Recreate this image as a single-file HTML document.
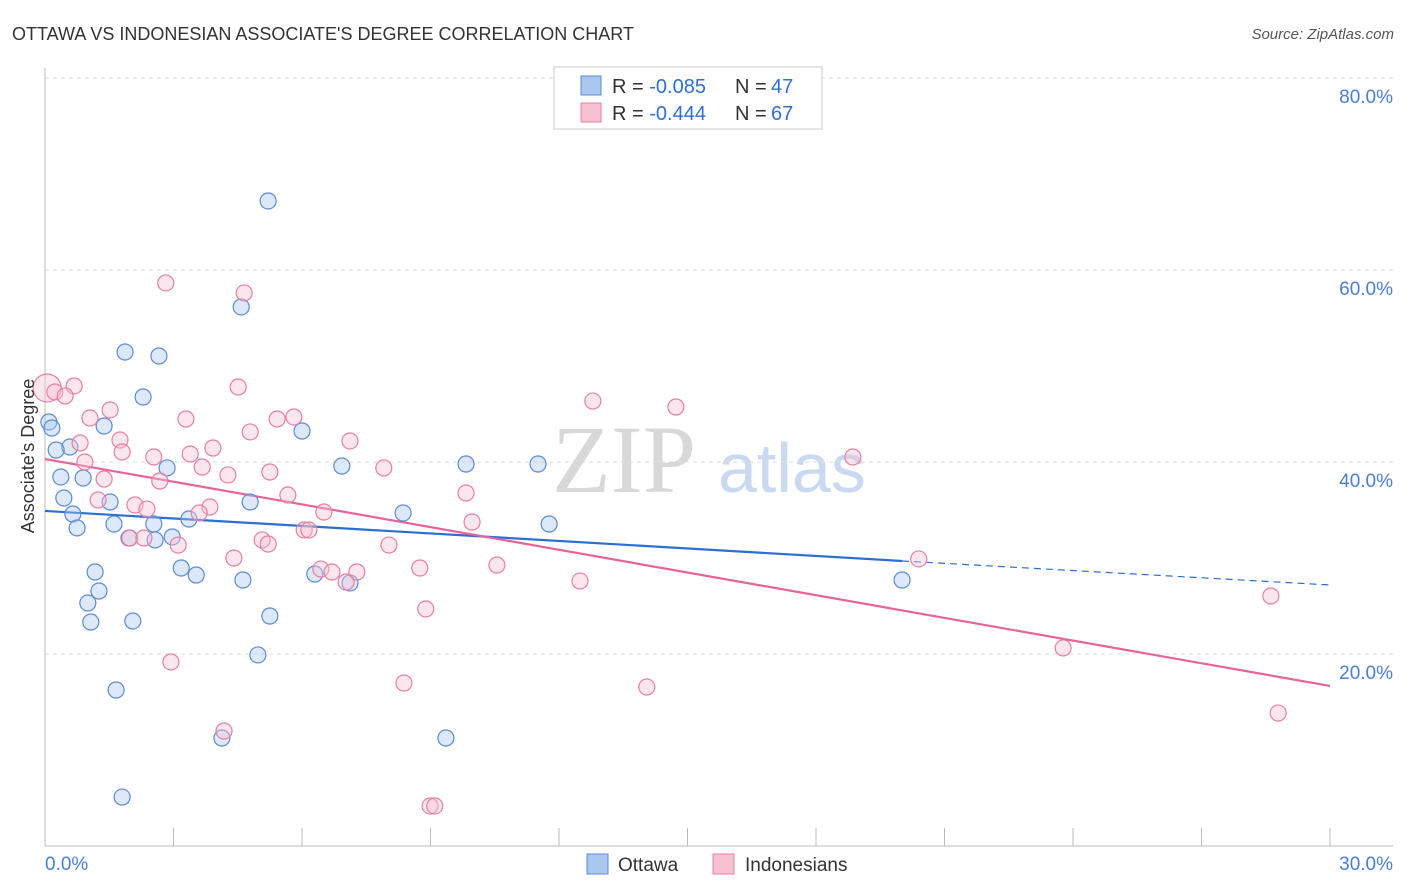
<!DOCTYPE html>
<html><head><meta charset="utf-8"><style>
body{margin:0;background:#fff;font-family:"Liberation Sans",sans-serif}
svg{display:block}
</style></head><body>
<svg id="c" width="1406" height="892">
<text x="12" y="40" font-size="18" fill="#333">OTTAWA VS INDONESIAN ASSOCIATE'S DEGREE CORRELATION CHART</text>
<text x="1394" y="39" font-size="15" fill="#555" font-style="italic" text-anchor="end">Source: ZipAtlas.com</text>
<g><text x="552" y="492" font-family="Liberation Serif" font-size="96" fill="#d8d8d8">ZIP</text><text x="718" y="492" font-size="70" fill="#c9d9f0">atlas</text></g>
<g id="grid"></g><g id="axes"></g><g id="lines"></g><g id="pts"></g>
<g>
<rect x="554" y="67" width="268" height="62" fill="#fff" stroke="#ccc"/>
<rect x="581" y="76" width="20" height="19" fill="#a9c7ef" stroke="#5b8ad8"/>
<text x="612" y="93" font-size="20" fill="#333">R = <tspan fill="#2f6fd8">-0.085</tspan></text>
<text x="735" y="93" font-size="20" fill="#333">N = </text><text x="771" y="93" font-size="20" fill="#2f6fd8">47</text>
<rect x="581" y="103" width="20" height="19" fill="#f7c1d2" stroke="#e87fa0"/>
<text x="612" y="120" font-size="20" fill="#333">R = <tspan fill="#2f6fd8">-0.444</tspan></text>
<text x="735" y="120" font-size="20" fill="#333">N = </text><text x="771" y="120" font-size="20" fill="#2f6fd8">67</text>
</g>
<g>
<rect x="587" y="854" width="21" height="20" fill="#a9c7ef" stroke="#5b8ad8"/>
<text x="618" y="871" font-size="19" fill="#333">Ottawa</text>
<rect x="713" y="854" width="21" height="20" fill="#f7c1d2" stroke="#e87fa0"/>
<text x="745" y="871" font-size="19" fill="#333">Indonesians</text>
</g>
<text transform="translate(34,456) rotate(-90)" font-size="18" fill="#333" text-anchor="middle">Associate's Degree</text>
</svg>
<script>
const yTicks=[20,40,60,80];
const yTickLabels=["20.0%","40.0%","60.0%","80.0%"];
const xTickLabels=["0.0%","30.0%"];
const ottawaX=[5.21,4.58,1.87,2.66,2.29,0.09,0.16,1.38,6.00,0.58,0.26,2.85,6.93,9.83,11.51,0.37,0.89,0.44,1.52,4.79,0.65,8.36,3.36,0.75,1.61,2.54,11.77,1.96,2.57,2.97,1.17,3.18,3.53,4.62,6.30,7.12,20.01,1.26,1.00,5.25,1.07,2.05,4.97,1.66,4.13,9.36,1.80];
const ottawaY=[67.19,56.15,51.46,51.04,46.77,44.17,43.54,43.75,43.23,41.56,41.25,39.38,39.58,39.79,39.79,38.44,38.33,36.25,35.83,35.83,34.58,34.69,34.06,33.13,33.54,33.54,33.54,32.08,31.88,32.19,28.54,28.96,28.23,27.71,28.33,27.40,27.71,26.56,25.31,23.96,23.33,23.44,19.90,16.25,11.25,11.25,5.10];
const indoX=[0.05,0.23,0.68,0.47,2.82,4.65,4.51,12.79,14.73,1.52,1.05,3.29,5.42,5.81,4.79,0.82,1.75,7.12,3.92,1.80,2.54,3.39,0.93,3.67,4.27,5.25,7.91,18.86,1.38,2.68,9.83,5.67,1.24,2.10,3.85,2.38,3.60,6.51,9.97,6.05,6.16,1.98,2.31,3.11,5.07,5.21,4.41,8.03,20.40,6.44,6.70,7.28,7.03,8.75,10.55,12.49,28.62,8.89,23.77,2.94,8.38,14.05,28.79,4.18,8.99,9.10];
const indoY=[47.71,47.29,47.92,46.88,58.65,57.61,47.81,46.35,45.73,45.42,44.58,44.48,44.48,44.69,43.13,41.98,42.29,42.19,41.46,41.04,40.52,40.83,40.00,39.48,38.65,38.96,39.38,40.52,38.23,38.02,36.77,36.56,36.04,35.52,35.31,35.10,34.69,34.79,33.75,32.92,32.92,32.08,32.08,31.35,31.88,31.46,30.00,31.35,29.90,28.85,28.54,28.54,27.50,28.96,29.27,27.60,26.04,24.69,20.63,19.17,16.98,16.56,13.85,11.98,4.17,4.17];
const ottawaTrendX=[0,20.01,30];
const ottawaTrendY=[34.9,29.69,27.19];
const indoTrendX=[0,30];
const indoTrendY=[40.31,16.67];
const NS="http://www.w3.org/2000/svg";
const X=v=>45+v/30*1285, Y=v=>846-v/20*192;
function mk(p,t,a){const e=document.createElementNS(NS,t);for(const k in a)e.setAttribute(k,a[k]);p.appendChild(e);return e;}
const grid=document.getElementById('grid'),axes=document.getElementById('axes'),lines=document.getElementById('lines'),pts=document.getElementById('pts');
yTicks.forEach((t,i)=>{
 const l=mk(grid,'line',{x1:45,x2:1393,y1:Y(t),y2:Y(t),stroke:'#ddd','stroke-dasharray':'4,4'});
 
 
 const tx=mk(axes,'text',{x:1393,y:Y(t)+25,'font-size':19,fill:'#4a7fd4','text-anchor':'end'});
 tx.textContent=yTickLabels[i];
 
 
});
const ax=mk(axes,'line',{x1:45,x2:1393,y1:846,y2:846,stroke:'#bbb'});


const ay=mk(axes,'line',{x1:45,x2:45,y1:68,y2:846,stroke:'#bbb'});


for(let i=0;i<=10;i++){const t=mk(axes,'line',{x1:X(i*3),x2:X(i*3),y1:828,y2:846,stroke:'#bbb'});
 
 }
[[0,'start',45],[30,'end',1393]].forEach((d,i)=>{const t=mk(axes,'text',{x:d[2],y:870,'font-size':19,fill:'#4a7fd4','text-anchor':d[1]});t.textContent=xTickLabels[i];
 
 });
function dots(xs,ys,fill,stroke,name){xs.forEach((x,i)=>{const c=mk(pts,'circle',{cx:X(x),cy:Y(ys[i]),r:(name==='indonesians-point'&&i===0)?14:8,fill:fill,'fill-opacity':0.4,stroke:stroke,'stroke-width':1.2});
 
 });}
dots(ottawaX,ottawaY,'#a9c7ef','#5b8ad8','ottawa-point');
dots(indoX,indoY,'#f7c1d2','#e87fa0','indonesians-point');
const l1=mk(lines,'line',{x1:X(ottawaTrendX[0]),y1:Y(ottawaTrendY[0]),x2:X(ottawaTrendX[1]),y2:Y(ottawaTrendY[1]),stroke:'#2a6fd6','stroke-width':2.2});


const l2=mk(lines,'line',{x1:X(ottawaTrendX[1]),y1:Y(ottawaTrendY[1]),x2:X(ottawaTrendX[2]),y2:Y(ottawaTrendY[2]),stroke:'#2a6fd6','stroke-width':1.2,'stroke-dasharray':'7,5'});


const l3=mk(lines,'line',{x1:X(indoTrendX[0]),y1:Y(indoTrendY[0]),x2:X(indoTrendX[1]),y2:Y(indoTrendY[1]),stroke:'#e8639a','stroke-width':2.2});


</script>
</body></html>
